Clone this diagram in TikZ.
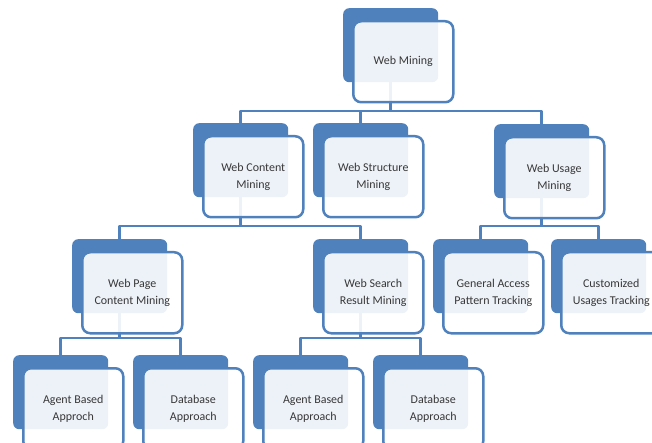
\documentclass[tikz,border=0pt]{standalone}
\usepackage{fontspec}
\setmainfont{Carlito}
\definecolor{miningblue}{HTML}{4F81BD}
\definecolor{miningtext}{HTML}{383838}

\begin{document}
\begin{tikzpicture}[x=1bp, y=-1bp,
    back/.style={fill=miningblue, rounded corners=6bp, inner sep=0pt,
      minimum width=95bp, minimum height=74bp, anchor=north west},
    front/.style={draw=miningblue, line width=2.5bp, fill=white, fill opacity=0.9,
      text opacity=1, rounded corners=8bp, inner sep=0pt, minimum width=100bp,
      minimum height=81bp, anchor=north west, align=center, text=miningtext,
      font=\fontsize{12}{16.5}\selectfont},
    link/.style={draw=miningblue, line width=2.5bp, line join=round}]
  \useasboundingbox (0,0) rectangle (652,443);
  \clip (0,0) rectangle (652,443);
  % back plates
  \foreach \name/\x/\y in {wm/343/8, wcm/193/123, wsm/313/123, wum/494/124,
      wpc/72/239, wsr/313/239, gap/433/239, cut/551/239,
      ab1/13/355, db1/133/355, ab2/253/355, db2/373/355} {
    \node[back] (\name) at (\x,\y) {};
  }
  % connectors
  \coordinate (bar1) at (0,111);
  \coordinate (bar2) at (0,226);
  \coordinate (bar3) at (0,338);
  \foreach \from/\to/\bar in {wm/wcm/bar1, wm/wsm/bar1, wm/wum/bar1,
      wcm/wpc/bar2, wcm/wsr/bar2, wum/gap/bar2, wum/cut/bar2,
      wpc/ab1/bar3, wpc/db1/bar3, wsr/ab2/bar3, wsr/db2/bar3} {
    \draw[link] (\from.south) -- (\from.south |- \bar) -| (\to.north);
  }
  % front cards
  \foreach \name/\x/\y/\label in {wm/343/8/{Web Mining},
      wcm/193/123/{Web Content\\Mining}, wsm/313/123/{Web Structure\\Mining},
      wum/494/124/{Web Usage\\Mining},
      wpc/72/239/{Web Page\\Content Mining}, wsr/313/239/{Web Search\\Result Mining},
      gap/433/239/{General Access\\Pattern Tracking}, cut/551/239/{Customized\\Usages Tracking},
      ab1/13/355/{Agent Based\\Approch}, db1/133/355/{Database\\Approach},
      ab2/253/355/{Agent Based\\Approach}, db2/373/355/{Database\\Approach}} {
    \node[front] (\name-t) at (\x+9,\y+12) {\label};
  }
\end{tikzpicture}
\end{document}
